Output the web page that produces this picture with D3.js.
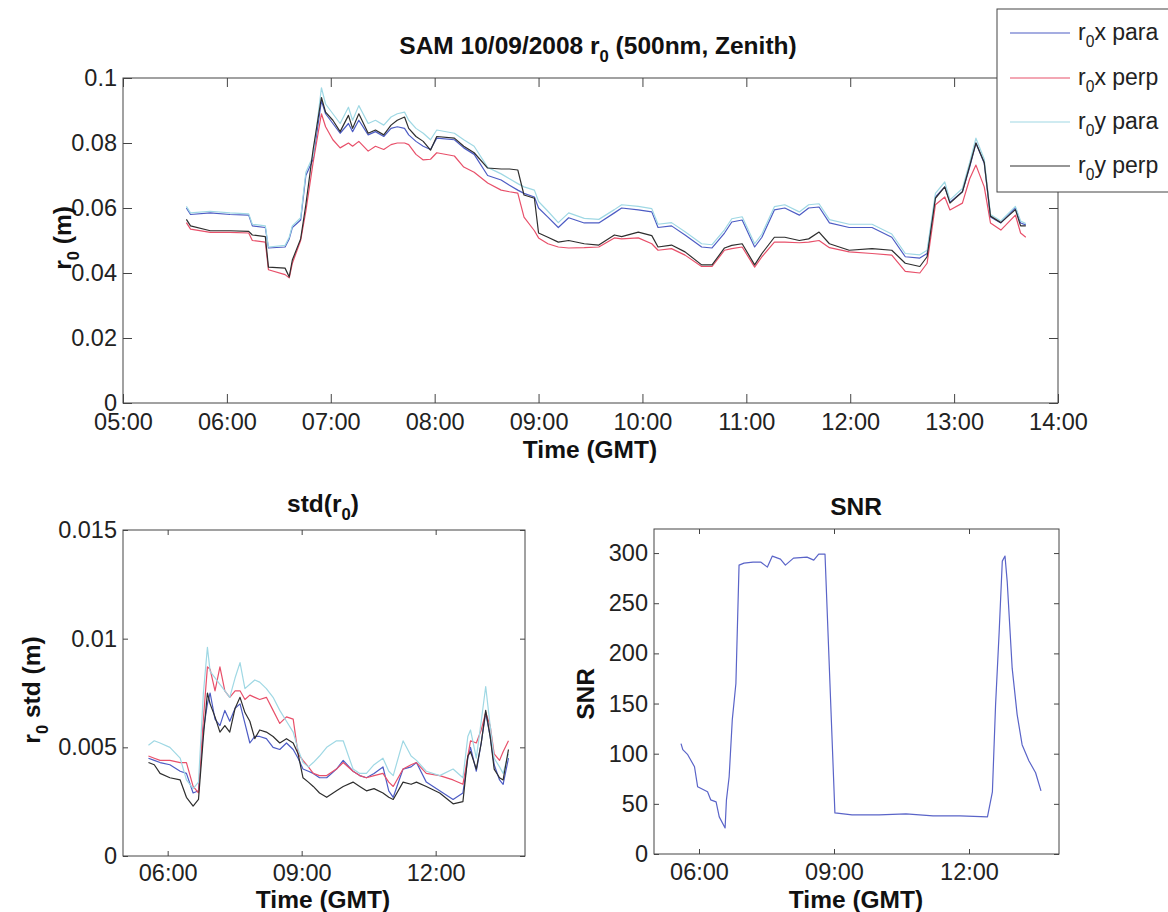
<!DOCTYPE html>
<html><head><meta charset="utf-8">
<script src="https://cdn.jsdelivr.net/npm/d3@7"></script>
<style>
body{margin:0;background:#fff;}
svg{display:block;font-family:"Liberation Sans",Arial,Helvetica,sans-serif;}
</style></head><body>
<svg id="chart" width="1168" height="912"></svg>
<script>
// ---------- DATA ----------
// Top panel: r0 (m) vs time (decimal hours GMT)
const timeR0 = [5.61,5.65,5.84,6.03,6.21,6.245,6.37,6.40,6.56,6.60,6.63,6.71,6.76,6.83,6.91,6.95,7.02,7.09,7.17,7.21,7.27,7.36,7.43,7.51,7.58,7.64,7.71,7.75,7.82,7.89,7.96,8.02,8.19,8.28,8.38,8.51,8.64,8.72,8.80,8.86,8.96,9.00,9.09,9.19,9.29,9.44,9.58,9.73,9.80,9.96,10.09,10.15,10.28,10.41,10.57,10.67,10.79,10.86,10.96,11.08,11.15,11.27,11.37,11.51,11.60,11.70,11.80,11.99,12.21,12.40,12.53,12.67,12.74,12.82,12.91,12.96,13.08,13.15,13.21,13.29,13.35,13.45,13.59,13.64,13.69];
const r0xPara = [.0600,.0580,.0585,.0580,.0578,.0545,.0540,.0477,.0480,.0505,.0540,.0563,.0700,.0750,.0930,.0890,.0860,.0830,.0860,.0835,.0870,.0825,.0835,.0820,.0845,.0850,.0845,.0825,.0805,.0790,.0780,.0815,.0810,.0785,.0765,.0700,.0686,.0670,.0655,.0645,.0634,.0600,.0572,.0540,.0570,.0554,.0554,.0585,.0600,.0594,.0588,.0540,.0545,.0517,.0480,.0477,.0523,.0557,.0563,.0480,.0510,.0594,.0600,.0578,.0600,.0603,.0554,.0540,.0540,.0510,.0450,.0446,.0460,.0634,.0665,.0618,.0650,.0726,.0800,.0738,.0572,.0554,.0600,.0554,.0548];
const r0xPerp = [.0555,.0535,.0525,.0525,.0523,.0500,.0495,.0410,.0395,.0385,.0430,.0500,.0590,.0740,.0890,.0850,.0810,.0785,.0800,.0790,.0805,.0775,.0790,.0780,.0795,.0800,.0800,.0795,.0765,.0748,.0750,.0770,.0760,.0726,.0710,.0677,.0655,.0650,.0646,.0572,.0530,.0508,.0490,.0480,.0477,.0478,.0480,.0508,.0505,.0508,.0490,.0470,.0475,.0455,.0420,.0420,.0470,.0475,.0480,.0418,.0450,.0495,.0495,.0493,.0495,.0500,.0478,.0465,.0460,.0455,.0405,.0400,.0430,.0610,.0634,.0594,.0615,.0690,.0732,.0665,.0554,.0532,.0578,.0523,.0510];
const r0yPara = [.0605,.0585,.0590,.0585,.0582,.0550,.0545,.0480,.0485,.0510,.0545,.0570,.0710,.0760,.0970,.0920,.0890,.0860,.0910,.0870,.0915,.0860,.0870,.0855,.0880,.0890,.0895,.0870,.0845,.0830,.0810,.0840,.0830,.0810,.0790,.0725,.0705,.0690,.0675,.0665,.0655,.0620,.0590,.0555,.0585,.0568,.0565,.0595,.0610,.0605,.0598,.0550,.0555,.0527,.0490,.0487,.0533,.0567,.0573,.0490,.0520,.0604,.0610,.0588,.0610,.0613,.0564,.0550,.0550,.0520,.0460,.0456,.0470,.0645,.0680,.0625,.0660,.0740,.0815,.0750,.0580,.0560,.0605,.0560,.0552];
const r0yPerp = [.0565,.0545,.0530,.0530,.0528,.0517,.0512,.0418,.0415,.0388,.0440,.0505,.0610,.0780,.0940,.0895,.0870,.0835,.0885,.0845,.0890,.0830,.0840,.0825,.0855,.0870,.0880,.0845,.0820,.0805,.0778,.0820,.0815,.0790,.0770,.0723,.0720,.0720,.0717,.0640,.0630,.0523,.0510,.0495,.0500,.0490,.0486,.0517,.0512,.0526,.0515,.0480,.0486,.0465,.0425,.0425,.0477,.0485,.0490,.0425,.0460,.0510,.0510,.0500,.0505,.0526,.0490,.0470,.0475,.0470,.0430,.0420,.0450,.0630,.0665,.0615,.0650,.0730,.0800,.0740,.0575,.0555,.0595,.0545,.0545];

// Bottom-left panel: std(r0) (m)
const timeStd = [5.57,5.70,5.83,6.05,6.28,6.42,6.57,6.69,6.80,6.89,6.95,7.06,7.17,7.28,7.39,7.51,7.62,7.73,7.84,7.95,8.06,8.21,8.36,8.51,8.66,8.81,8.92,9.03,9.15,9.26,9.40,9.56,9.78,9.93,10.15,10.30,10.45,10.62,10.82,10.95,11.05,11.27,11.45,11.57,11.79,12.09,12.39,12.61,12.72,12.78,12.91,13.02,13.12,13.22,13.31,13.43,13.51,13.63];
const stdXPara = [.0045,.0044,.0043,.0042,.0039,.0038,.0029,.0030,.0058,.0070,.0075,.0063,.0060,.0067,.0062,.0068,.0070,.0061,.0052,.0055,.0055,.0054,.0050,.0049,.0052,.0049,.0045,.0040,.0039,.0038,.0036,.0036,.0040,.0044,.0039,.0037,.0036,.0038,.0041,.0030,.0027,.0040,.0041,.0043,.0034,.0030,.0026,.0029,.0045,.0050,.0039,.0052,.0066,.0055,.0042,.0035,.0033,.0045];
const stdXPerp = [.0046,.0045,.0044,.0044,.0043,.0043,.0032,.0029,.0063,.0087,.0086,.0076,.0087,.0076,.0073,.0076,.0076,.0072,.0074,.0073,.0072,.0073,.0067,.0061,.0064,.0063,.0047,.0044,.0041,.0038,.0037,.0037,.0040,.0043,.0039,.0037,.0036,.0037,.0038,.0034,.0032,.0040,.0042,.0043,.0038,.0037,.0035,.0033,.0046,.0053,.0052,.0058,.0066,.0060,.0047,.0044,.0048,.0053];
const stdYPara = [.0051,.0053,.0052,.0050,.0045,.0035,.0031,.0034,.0075,.0096,.0085,.0082,.0079,.0076,.0073,.0082,.0089,.0077,.0079,.0081,.0080,.0077,.0073,.0067,.0062,.0057,.0049,.0043,.0041,.0043,.0046,.0050,.0053,.0053,.0040,.0038,.0038,.0042,.0045,.0039,.0037,.0053,.0046,.0044,.0039,.0037,.0040,.0036,.0055,.0058,.0045,.0062,.0078,.0060,.0045,.0041,.0038,.0047];
const stdYPerp = [.0043,.0042,.0038,.0036,.0035,.0027,.0023,.0026,.0055,.0075,.0070,.0064,.0057,.0060,.0057,.0068,.0073,.0066,.0062,.0054,.0058,.0057,.0055,.0052,.0054,.0052,.0047,.0036,.0034,.0032,.0029,.0027,.0030,.0032,.0034,.0032,.0030,.0031,.0029,.0027,.0026,.0034,.0033,.0034,.0032,.0029,.0024,.0025,.0046,.0048,.0040,.0052,.0067,.0055,.0040,.0036,.0035,.0049];

// Bottom-right panel: SNR
const timeSnr = [5.60,5.64,5.75,5.90,5.97,6.19,6.26,6.38,6.45,6.58,6.61,6.67,6.74,6.82,6.89,7.00,7.20,7.37,7.52,7.63,7.81,7.92,8.10,8.40,8.55,8.66,8.80,9.02,9.40,10.0,10.6,11.2,11.8,12.41,12.52,12.59,12.67,12.74,12.80,12.85,12.96,13.07,13.18,13.33,13.48,13.60];
const snr = [110,104,99,87,67,62,54,52,37,26,54,77,134,170,288,290,291,291,286,297,294,288,295,296,293,299,299,41,39,39,40,38,38,37,62,148,221,292,297,271,185,139,109,93,81,63];

// Ticks
const hourTicksTop = [5,6,7,8,9,10,11,12,13,14];
const hourTicksBottom = [6,9,12];
const r0Ticks = [0,0.02,0.04,0.06,0.08,0.1];
const stdTicks = [0,0.005,0.01,0.015];
const snrTicks = [0,50,100,150,200,250,300];

const seriesNames = ["x para","x perp","y para","y perp"];
const seriesColors = ["#4d5cc4","#e8506a","#9fd8e4","#2e2e2e"];

// ---------- DRAW ----------
const svg = d3.select("#chart");
const FONT = '"Liberation Sans",Arial,Helvetica,sans-serif';
const TICK_FS = 23.5, LAB_FS = 24.5, LEG_FS = 23;
const fmtH = h => String(h).padStart(2,"0") + ":00";

function panel(o){
  const g = svg.append("g").attr("transform",`translate(${o.left},${o.top})`);
  const x = d3.scaleLinear().domain(o.xDomain).range([0,o.width]);
  const y = d3.scaleLinear().domain(o.yDomain).range([o.height,0]);
  g.append("g").attr("transform",`translate(0,${o.height})`)
    .call(d3.axisBottom(x).tickValues(o.xTicks).tickFormat(fmtH).tickSize(-o.tick).tickPadding(o.xPad));
  g.append("g").call(d3.axisTop(x).tickValues(o.xTicks).tickFormat("").tickSize(-o.tick));
  g.append("g").call(d3.axisLeft(y).tickValues(o.yTicks).tickFormat(d=>String(d)).tickSize(-o.tick).tickPadding(6));
  g.append("g").attr("transform",`translate(${o.width},0)`)
    .call(d3.axisRight(y).tickValues(o.yTicks).tickFormat("").tickSize(-o.tick));
  g.selectAll(".domain").remove();
  g.selectAll(".tick line").attr("stroke","#444").attr("stroke-width",1);
  g.selectAll(".tick text").attr("font-size",TICK_FS).attr("fill","#222").attr("font-family",FONT);
  g.append("rect").attr("width",o.width).attr("height",o.height)
    .attr("fill","none").attr("stroke","#444").attr("stroke-width",1);
  const line = d3.line().x(d=>x(d[0])).y(d=>y(d[1]));
  o.series.forEach((s,i)=>{
    g.append("path").datum(d3.zip(o.time,s)).attr("d",line)
      .attr("fill","none").attr("stroke",o.colors[i]).attr("stroke-width",1.2)
      .attr("stroke-linejoin","round");
  });
  return g;
}

panel({left:123,top:78,width:935,height:325,xDomain:[5,14],yDomain:[0,0.1],
  xTicks:hourTicksTop,yTicks:r0Ticks,tick:9,xPad:10,time:timeR0,
  series:[r0xPara,r0xPerp,r0yPara,r0yPerp],colors:seriesColors});
panel({left:123,top:530,width:402,height:326,xDomain:[5,14],yDomain:[0,0.015],
  xTicks:hourTicksBottom,yTicks:stdTicks,tick:5,xPad:8,time:timeStd,
  series:[stdXPara,stdXPerp,stdYPara,stdYPerp],colors:seriesColors});
panel({left:654,top:529,width:405,height:325,xDomain:[5,14],yDomain:[0,324],
  xTicks:hourTicksBottom,yTicks:snrTicks,tick:5,xPad:9,time:timeSnr,
  series:[snr],colors:["#5a64c8"]});

// text helper with subscript 0 after "r"
function subText(sel, pre, post, size){
  sel.append("tspan").text(pre);
  sel.append("tspan").attr("font-size",size*0.68).attr("dy",size*0.32).text("0");
  sel.append("tspan").attr("dy",-size*0.32).text(post);
  return sel;
}
function label(x,y,size){
  return svg.append("text").attr("x",x).attr("y",y).attr("text-anchor","middle")
    .attr("font-size",size).attr("font-weight","bold").attr("fill","#111")
    .attr("font-family",FONT);
}
function yLabel(cx, cy, build){
  const t = svg.append("text").attr("transform",`translate(${cx},${cy}) rotate(-90)`)
    .attr("text-anchor","middle").attr("font-size",LAB_FS).attr("font-weight","bold")
    .attr("fill","#111").attr("font-family",FONT);
  build(t);
}

subText(label(598,54,LAB_FS), "SAM 10/09/2008 r", " (500nm, Zenith)", LAB_FS);
label(590,458,LAB_FS).text("Time (GMT)");
subText(label(323,512,LAB_FS), "std(r", ")", LAB_FS);
label(323,908,LAB_FS).text("Time (GMT)");
label(856,515,LAB_FS).text("SNR");
label(856,908,LAB_FS).text("Time (GMT)");

yLabel(71,238,t=>subText(t,"r"," (m)",LAB_FS));
yLabel(40,690,t=>subText(t,"r"," std (m)",LAB_FS));
yLabel(594,694,t=>t.text("SNR"));

// legend
const lg = svg.append("g");
lg.append("rect").attr("x",997).attr("y",9).attr("width",200).attr("height",183)
  .attr("fill","#fff").attr("stroke","#444").attr("stroke-width",1);
const legY = [33,78,122,166];
seriesNames.forEach((n,i)=>{
  lg.append("line").attr("x1",1010).attr("x2",1070).attr("y1",legY[i]).attr("y2",legY[i])
    .attr("stroke",seriesColors[i]).attr("stroke-width",1.2);
  const t = lg.append("text").attr("x",1078).attr("y",legY[i]+7).attr("font-size",LEG_FS)
    .attr("fill","#222").attr("font-family",FONT);
  subText(t,"r",n,LEG_FS);
});
</script>
</body></html>
